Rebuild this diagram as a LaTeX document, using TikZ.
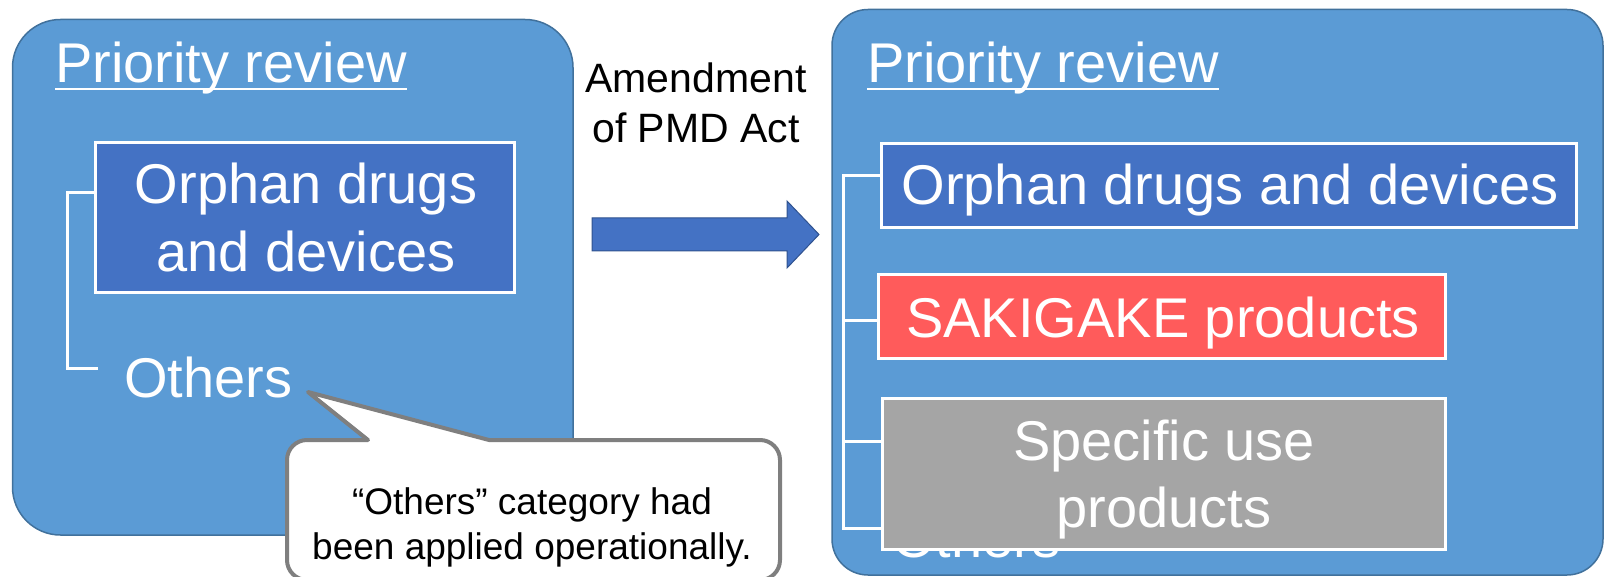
\documentclass[tikz,border=0pt]{standalone}
\usepackage{fontspec}
\setmainfont{Liberation Sans}
\definecolor{panelblue}{HTML}{5B9BD5}
\definecolor{paneledge}{HTML}{41719C}
\definecolor{catblue}{HTML}{4472C4}
\definecolor{sakired}{HTML}{FF5B5B}
\definecolor{usegray}{HTML}{A5A5A5}
\definecolor{callgray}{HTML}{7F7F7F}
\definecolor{arrowedge}{HTML}{2F528F}
\begin{document}
\begin{tikzpicture}[x=1pt,y=-1pt,
  panel/.style={fill=panelblue, draw=paneledge, line width=1.5, inner sep=0},
  catbox/.style={draw=white, line width=3, inner sep=0},
  bigtext/.style={text=white, inner sep=0, align=center, font=\fontsize{56}{68}\selectfont},
  titletext/.style={text=white, inner sep=0, font=\fontsize{56}{68}\selectfont},
  uline/.style={draw=white, line width=2.5},
  bracket/.style={draw=white, line width=3},
  amendtext/.style={text=black, inner sep=0, align=center, font=\fontsize{41}{50}\selectfont},
  calltext/.style={text=black, inner sep=0, align=center, font=\fontsize{37}{45}\selectfont},
  callout/.style={fill=white, draw=callgray, line width=4, line join=round},
  bigarrow/.style={fill=catblue, draw=arrowedge, line width=1}
]
\useasboundingbox (0,0) rectangle (1608,577);

% panels
\node[panel, rounded corners=48, minimum width=560.5, minimum height=515.5] (lp) at (292.75,277.25) {};
\node[panel, rounded corners=36, minimum width=771, minimum height=565.5] (rp) at (1217.5,292.25) {};

% titles
\node[titletext, anchor=base west] (lt) at (55,83) {Priority review};
\draw[uline] ([yshift=-6pt]lt.base west) -- ([yshift=-6pt]lt.base east);
\node[titletext, anchor=base west] (rt) at (867,83) {Priority review};
\draw[uline] ([yshift=-6pt]rt.base west) -- ([yshift=-6pt]rt.base east);

% left panel content
\node[catbox, fill=catblue, minimum width=419, minimum height=150] (lo) at (305,217.5) {};
\node[bigtext, anchor=base] (lotext) at (306,272) {Orphan drugs\\and devices};
\node[titletext, anchor=base west] (lothers) at (124,397) {Others};
\coordinate (lbt) at (67,193);
\coordinate (lbb) at (67,368);
\coordinate (lbe) at (98,368);
\draw[bracket] (lo.west |- lbt) -- (lbt) -- (lbb) -- (lbe);

% right panel content
\node[titletext, anchor=base west] (rothers) at (892,557) {Others};
\node[catbox, fill=catblue, minimum width=695, minimum height=84] (ro) at (1229,185.5) {};
\node[bigtext, anchor=base] (rotext) at (1230,205) {Orphan drugs and devices};
\node[catbox, fill=sakired, minimum width=567, minimum height=84] (sk) at (1162,316.5) {};
\node[bigtext, anchor=base] (sktext) at (1163,337) {SAKIGAKE products};
\node[catbox, fill=usegray, minimum width=563, minimum height=151] (su) at (1164,474) {};
\node[bigtext, anchor=base, font=\fontsize{56}{67}\selectfont] (sutext) at (1164,527) {Specific use\\products};
\coordinate (rbt) at (843,176);
\coordinate (rbs) at (843,320);
\coordinate (rbu) at (843,441);
\coordinate (rbb) at (843,528);
\draw[bracket] (ro.west |- rbt) -- (rbt) -- (rbb) -- (su.west |- rbb);
\draw[bracket] (rbs) -- (sk.west |- rbs);
\draw[bracket] (rbu) -- (su.west |- rbu);

% amendment arrow
\node[amendtext, anchor=base] (am) at (696,143) {Amendment\\of PMD Act};
\draw[bigarrow] (592,218) -- (787,218) -- (787,201) -- (819,234.5) -- (787,268) -- (787,251) -- (592,251) -- cycle;

% callout
\coordinate (ctip) at (308,392);
\draw[callout] (287,500) [rounded corners=20] -- (287,440) -- (330,440) [sharp corners] -- (368,440) -- (ctip) -- (489,440) -- (600,440) [rounded corners=20] -- (780,440) -- (780,580) -- (287,580) -- cycle;
\node[calltext, anchor=base] (ct) at (532,559) {“Others” category had\\been applied operationally.};
\end{tikzpicture}
\end{document}
